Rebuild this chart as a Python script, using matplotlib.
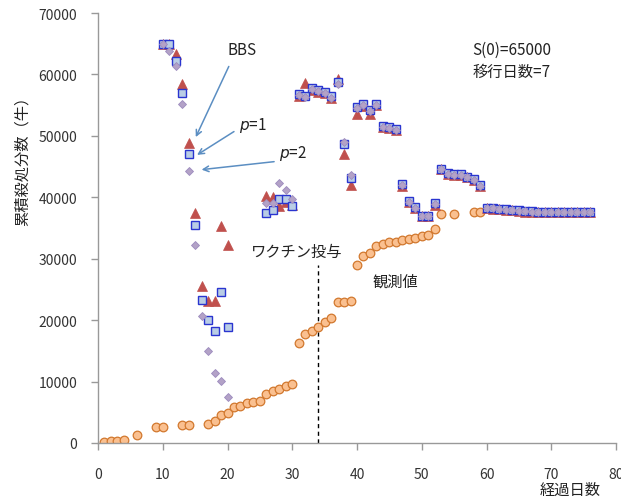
import numpy as np
import matplotlib
matplotlib.use("Agg")
import matplotlib.pyplot as plt

plt.rcParams['font.family'] = ['Noto Sans CJK JP', 'DejaVu Sans']

# observed cumulative culls
obs_day = [1, 2, 3, 4, 6, 9, 10, 13, 14, 17, 18, 19, 20, 21, 22, 23, 24, 25,
           26, 27, 28, 29, 30, 31, 32, 33, 34, 35, 36, 37, 38, 39, 40, 41, 42,
           43, 44, 45, 46, 47, 48, 49, 50, 51, 52, 53, 55, 58, 59]
obs_val = [100, 250, 400, 450, 1250, 2600, 2600, 2900, 2900, 3100, 3550, 4500,
           4850, 5800, 6050, 6450, 6700, 6900, 8000, 8450, 8750, 9200, 9600,
           16250, 17800, 18200, 18950, 19650, 20300, 22900, 22900, 23100,
           29000, 30400, 30950, 32050, 32450, 32700, 32800, 33100, 33250,
           33350, 33650, 33900, 34850, 37200, 37200, 37550, 37600]

# model predictions
model_day = [10, 11, 12, 13, 14, 15, 16, 17, 18, 19, 20,
             26, 27, 28, 29, 30,
             31, 32, 33, 34, 35, 36, 37, 38, 39,
             40, 41, 42, 43, 44, 45, 46,
             47, 48, 49, 50, 51, 52,
             53, 54, 55, 56, 57, 58, 59,
             60, 61, 62, 63, 64, 65, 66, 67, 68, 69, 70, 71, 72, 73, 74, 75, 76]

bbs = [65000, 64900, 63300, 58400, 48780, 37470, 25500, 23050, 23050, 35280, 32300,
       40180, 40000, 38550, 39300, 38700,
       56500, 58560, 57400, 57200, 57000, 56200, 59200, 46980, 41920,
       53510, 54900, 53600, 55000, 51400, 51300, 50900,
       41900, 39200, 38200, 36900, 36900, 38800,
       44550, 43780, 43620, 43620, 43240, 42800, 41820,
       38200, 38150, 38050, 37950, 37850, 37750, 37650, 37600, 37550, 37550,
       37550, 37550, 37550, 37550, 37550, 37550, 37550]

p1 = [65000, 64900, 62200, 57050, 46980, 35450, 23330, 19960, 18160, 24520, 18810,
      37470, 37850, 39640, 39640, 38660,
      56890, 56490, 57750, 57470, 57210, 56490, 58780, 48610, 43180,
      54700, 55140, 54210, 55140, 51600, 51440, 51060,
      42090, 39360, 38380, 37030, 37030, 38990,
      44650, 43880, 43720, 43720, 43340, 42900, 41920,
      38300, 38250, 38150, 38050, 37950, 37850, 37750, 37700, 37650, 37600,
      37600, 37600, 37600, 37600, 37600, 37600, 37600]

p2 = [65000, 63830, 61400, 55140, 44260, 32300, 20720, 15010, 11470, 10160, 7450,
      38990, 39100, 42250, 41160, 39750,
      56700, 56300, 57600, 57300, 57000, 56100, 58500, 49000, 43600,
      54600, 55000, 54100, 55000, 51500, 51300, 50900,
      42000, 39300, 38300, 36950, 36950, 38900,
      44600, 43800, 43650, 43650, 43300, 42850, 41850,
      38250, 38200, 38100, 38000, 37900, 37800, 37700, 37650, 37600, 37600,
      37600, 37600, 37600, 37600, 37600, 37600, 37600]

vaccine_day = 34

fig = plt.figure(figsize=(6.21, 5.02), dpi=100)
ax = fig.add_axes([98 / 621, 1 - 444 / 502, (616 - 98) / 621, (444 - 14) / 502])

ax.plot(obs_day, obs_val, 'o', ms=6.2, mfc='#FAC090', mec='#D2782E', mew=0.9,
        ls='none', zorder=2)
ax.plot(model_day, bbs, '^', ms=6.5, mfc='#C0504D', mec='#C0504D', mew=0.5,
        ls='none', zorder=3)
ax.plot(model_day, p1, 's', ms=5.8, mfc='#B9CDE5', mec='#2A35D0', mew=1.0,
        ls='none', zorder=4)
ax.plot(model_day, p2, 'D', ms=3.8, mfc='#B3A2C7', mec='#9C8BBE', mew=0.6,
        ls='none', zorder=5)

ax.vlines(vaccine_day, 0, 29000, colors='black', linestyles=(0, (3, 2.5)),
          lw=1.0, zorder=1)

ax.set_xlim(0, 80)
ax.set_ylim(0, 70000)
ax.set_xticks(np.arange(0, 81, 10))
ax.set_yticks(np.arange(0, 70001, 10000))
ax.tick_params(axis='both', direction='out', length=5, width=1, color='#999999',
               labelsize=10, labelcolor='#333333')
ax.tick_params(axis='x', pad=12)
ax.tick_params(axis='y', pad=10)
for side in ('top', 'right'):
    ax.spines[side].set_visible(False)
for side in ('left', 'bottom'):
    ax.spines[side].set_color('#999999')
    ax.spines[side].set_linewidth(1.0)

fig.text(22 / 621, 1 - 157 / 502, '累積殺処分数（牛）', rotation=90,
         ha='center', va='center', fontsize=11, color='#222222')
fig.text(570 / 621, 1 - 490 / 502, '経過日数', ha='center', va='center',
         fontsize=11, color='#222222')

arrow_kw = dict(arrowstyle='->', color='#5B8EC2', lw=1.1, shrinkA=0, shrinkB=0)
ax.annotate('', xy=(15.1, 49800), xytext=(20.2, 61300), arrowprops=arrow_kw)
ax.annotate('', xy=(15.3, 46900), xytext=(21.0, 50700), arrowprops=arrow_kw)
ax.annotate('', xy=(16.0, 44500), xytext=(27.2, 45800), arrowprops=arrow_kw)

ax.text(22.3, 64100, 'BBS', ha='center', va='center', fontsize=11, color='#222222')
ax.text(21.8, 51900, r'$\it{p}$=1', ha='left', va='center', fontsize=11,
        color='#222222')
ax.text(27.9, 47300, r'$\it{p}$=2', ha='left', va='center', fontsize=11,
        color='#222222')

ax.text(57.8, 64100, 'S(0)=65000', ha='left', va='center', fontsize=11,
        color='#222222')
ax.text(57.8, 60500, '移行日数=7', ha='left', va='center', fontsize=11,
        color='#222222')

ax.text(30.7, 31200, 'ワクチン投与', ha='center', va='center', fontsize=11,
        color='#222222')
ax.text(46.0, 26300, '観測値', ha='center', va='center', fontsize=11,
        color='#222222')

fig.savefig('out.png', dpi=100)
